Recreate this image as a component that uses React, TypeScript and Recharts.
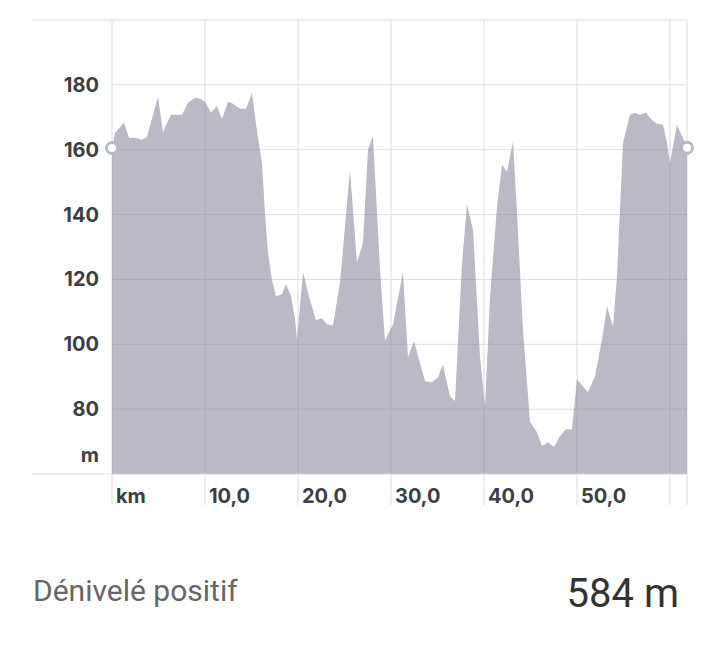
import React from 'react';
import { AreaChart, Area, XAxis, YAxis, CartesianGrid } from 'recharts';

// distance (km) and elevation (m)
const distances = [
  0, 0.32, 1.29, 1.83, 2.47, 3.23, 3.76, 4.95, 5.48, 6.34, 7.53, 8.17, 8.92, 9.46, 10.0,
  10.65, 11.29, 11.83, 12.47, 13.01, 13.76, 14.41, 15.05, 15.59, 16.13, 16.45, 16.77, 17.2,
  17.63, 18.28, 18.71, 19.25, 19.68, 19.89, 20.54, 21.18, 21.94, 22.58, 23.12, 23.76, 24.52,
  25.59, 26.34, 26.99, 27.53, 28.06, 28.82, 29.35, 30.22, 31.29, 31.83, 32.47, 33.66, 34.41,
  35.05, 35.59, 36.34, 36.88, 37.63, 38.17, 38.82, 39.57, 40.11, 40.65, 41.4, 41.94, 42.47,
  43.12, 43.55, 44.19, 44.95, 45.7, 46.24, 46.88, 47.53, 48.17, 48.82, 49.46, 50.0, 51.18,
  51.94, 52.69, 53.23, 53.87, 54.3, 54.95, 55.7, 56.24, 56.77, 57.42, 58.06, 58.6, 59.25,
  59.68, 60.0, 60.75, 61.61, 61.83,
];

const elevations = [
  160.5, 165.2, 168.3, 163.7, 163.7, 163.1, 164.0, 176.3, 165.5, 170.8, 170.8, 174.5, 176.0,
  175.7, 174.8, 171.4, 173.5, 169.5, 174.8, 174.2, 172.6, 172.6, 177.5, 165.8, 156.0, 140.6,
  128.3, 120.0, 114.8, 115.4, 118.5, 114.8, 107.7, 101.5, 122.2, 114.8, 107.4, 108.0, 106.2,
  105.8, 119.1, 153.8, 125.2, 131.4, 160.0, 164.3, 123.1, 101.2, 106.2, 122.2, 96.0, 100.9,
  88.6, 88.3, 89.8, 93.8, 84.0, 82.5, 124.6, 143.1, 135.4, 96.3, 80.9, 114.8, 142.5, 155.4,
  153.2, 162.5, 140.6, 104.6, 76.0, 72.9, 68.6, 69.8, 68.3, 71.7, 73.8, 73.8, 89.2, 85.2,
  90.2, 101.5, 111.7, 105.5, 120.9, 162.2, 170.8, 171.4, 170.8, 171.4, 169.2, 168.0, 167.7,
  162.2, 156.0, 167.7, 162.2, 160.6,
];

const xTicks = [0, 10, 20, 30, 40, 50, 60, 61.83];
const yTicks = [60, 80, 100, 120, 140, 160, 180, 200];

const data = distances.map((km, i) => ({ km, ele: elevations[i] }));

const gridColor = '#dcdce2';
const tickFont = 'Inter, "DejaVu Sans", sans-serif';
const tickStyle = { fill: '#3d3d44', fontSize: 20, fontWeight: 700, fontFamily: tickFont };

const xLabel = (v: number) => {
  if (v === 0) return 'km';
  if (v >= 60) return '';
  return v.toFixed(1).replace('.', ',');
};

const XTick = (props: any) => {
  const { x, y, payload } = props;
  return (
    <g>
      <line x1={x} x2={x} y1={y} y2={y + 31} stroke={gridColor} strokeWidth={1} />
      <text x={x + 4} y={y + 29} textAnchor="start" {...tickStyle}>
        {xLabel(payload.value)}
      </text>
    </g>
  );
};

const YTick = (props: any) => {
  const { x, y, payload } = props;
  const v = payload.value;
  if (v === 60 || v === 200) {
    return (
      <g>
        <line x1={x - 80} x2={x} y1={y} y2={y} stroke={gridColor} strokeWidth={1} />
        {v === 60 && (
          <text x={x - 13} y={y - 12} textAnchor="end" {...tickStyle}>
            m
          </text>
        )}
      </g>
    );
  }
  return (
    <text x={x - 13} y={y + 7} textAnchor="end" {...tickStyle}>
      {v}
    </text>
  );
};

// only the first and last points get a ring marker
const EndDot = (props: any) => {
  const { cx, cy, index } = props;
  if (index !== 0 && index !== data.length - 1) return <g key={`d-${index}`} />;
  return <circle key={`d-${index}`} cx={cx} cy={cy} r={5.5} fill="#fff" stroke="#b9b9c3" strokeWidth={3} />;
};

export default function App() {
  return (
    <div style={{ position: 'absolute', left: 0, top: 0, width: 720, height: 663, background: '#fff' }}>
      <AreaChart width={720} height={520} data={data} margin={{ top: 20, right: 33, bottom: 0, left: 32 }}>
        <CartesianGrid stroke={gridColor} strokeWidth={1} />
        <XAxis
          dataKey="km"
          type="number"
          domain={[0, 61.83]}
          ticks={xTicks}
          interval={0}
          height={46}
          tickSize={0}
          tickMargin={0}
          tickLine={false}
          axisLine={{ stroke: gridColor }}
          tick={<XTick />}
        />
        <YAxis
          type="number"
          domain={[60, 200]}
          ticks={yTicks}
          interval={0}
          width={80}
          tickSize={0}
          tickMargin={0}
          tickLine={false}
          axisLine={false}
          tick={<YTick />}
        />
        <Area
          type="linear"
          dataKey="ele"
          stroke="none"
          fill="#7a7a94"
          fillOpacity={0.52}
          dot={EndDot}
          activeDot={false}
          isAnimationActive={false}
        />
      </AreaChart>
      <div
        style={{
          position: 'absolute',
          left: 33,
          top: 576,
          fontFamily: 'Roboto, sans-serif',
          fontSize: 30,
          lineHeight: '30px',
          color: '#666',
        }}
      >
        Dénivelé positif
      </div>
      <div
        style={{
          position: 'absolute',
          right: 41,
          top: 574,
          fontFamily: 'Roboto, sans-serif',
          fontSize: 40,
          lineHeight: '40px',
          color: '#333',
        }}
      >
        584 m
      </div>
    </div>
  );
}
